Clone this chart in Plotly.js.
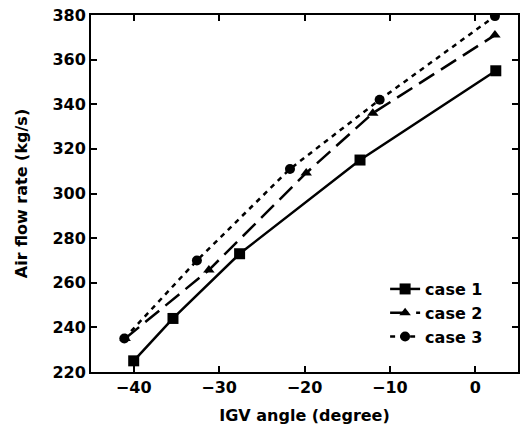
<!DOCTYPE html>
<html><head><meta charset="utf-8">
<script src="https://cdn.plot.ly/plotly-3.0.1.min.js"></script>
<style>html,body{margin:0;padding:0;background:#fff}#chart{width:525px;height:436px}</style>
</head><body><div id="chart"></div>
<script>
const case1X = [-40, -35.4, -27.6, -13.5, 2.4];
const case1Y = [225, 244, 273, 315, 355];
const case2X = [-41, -31.2, -19.8, -12.0, 2.3];
const case2Y = [235, 265.7, 309.2, 336, 371];
const case3X = [-41.1, -32.6, -21.7, -11.2, 2.3];
const case3Y = [235, 270, 311, 342, 379.5];
const seriesNames = ["case 1", "case 2", "case 3"];
const xTicks = [-40, -30, -20, -10, 0];
const yTicks = [220, 240, 260, 280, 300, 320, 340, 360, 380];

const fam = "DejaVu Sans, sans-serif";
const bold = {family: fam, size: 16, color: "#000", weight: "bold"};
const traces = [
  {x: case1X, y: case1Y, name: seriesNames[0], mode: "lines+markers",
   line: {color: "#000", width: 2.5, dash: "solid"},
   marker: {symbol: "square", size: 11, color: "#000"}},
  {x: case2X, y: case2Y, name: seriesNames[1], mode: "lines+markers",
   line: {color: "#000", width: 2.5, dash: "18px,8px"},
   marker: {symbol: "triangle-up", size: 10, color: "#000"}},
  {x: case3X, y: case3Y, name: seriesNames[2], mode: "lines+markers",
   line: {color: "#000", width: 2.5, dash: "5px,5px"},
   marker: {symbol: "circle", size: 10, color: "#000"}}
];
const axisCommon = {showgrid: false, zeroline: false, showline: true, linecolor: "#000", linewidth: 2,
  mirror: "ticks", ticks: "inside", ticklen: 6, tickwidth: 2, tickcolor: "#000",
  tickfont: bold};
const layout = {
  width: 525, height: 436,
  margin: {l: 91, r: 7, t: 15, b: 64},
  paper_bgcolor: "#fff", plot_bgcolor: "#fff",
  font: bold,
  showlegend: true,
  legend: {x: 0.93, xanchor: "right", y: 0.28, yanchor: "top", bgcolor: "rgba(0,0,0,0)",
    font: bold, tracegroupgap: 0},
  xaxis: Object.assign({}, axisCommon, {range: [-45, 5], tickvals: xTicks,
    title: {text: "IGV angle (degree)", font: bold, standoff: 14}}),
  yaxis: Object.assign({}, axisCommon, {range: [220, 380], tickvals: yTicks,
    title: {text: "Air flow rate (kg/s)", font: bold, standoff: 21}})
};
Plotly.newPlot("chart", traces, layout, {displayModeBar: false, staticPlot: true});
</script></body></html>
